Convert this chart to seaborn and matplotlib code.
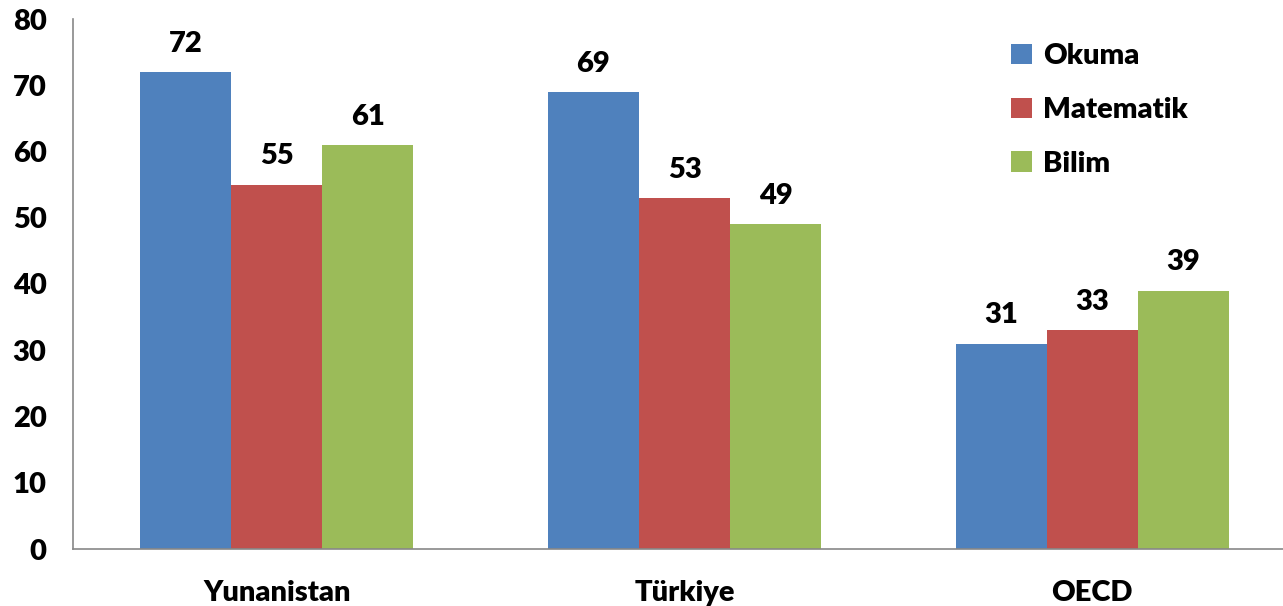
import seaborn as sns
import matplotlib.pyplot as plt
import pandas as pd

countries = ['Yunanistan', 'Türkiye', 'OECD']
subjects = ['Okuma', 'Matematik', 'Bilim']
okuma = [72, 69, 31]
matematik = [55, 53, 33]
bilim = [61, 49, 39]
colors = ['#4F81BD', '#C0504D', '#9BBB59']

df = pd.DataFrame({
    'country': countries * 3,
    'subject': [s for s in subjects for _ in countries],
    'value': okuma + matematik + bilim,
})

sns.set_style('white')
plt.rcParams['font.family'] = ['Lato', 'DejaVu Sans']
plt.rcParams['text.color'] = 'black'
plt.rcParams['xtick.labelcolor'] = 'black'
plt.rcParams['ytick.labelcolor'] = 'black'
W = 'heavy'
FS = 21

fig = plt.figure(figsize=(12.83, 6.06), dpi=100)
ax = fig.add_axes([73 / 1283, 1 - 549 / 606, 1 - 73 / 1283, 530 / 606])

sns.barplot(data=df, x='country', y='value', hue='subject', palette=colors,
            width=0.67, saturation=1, ax=ax, edgecolor='none', linewidth=0)

for c in ax.containers:
    ax.bar_label(c, fontsize=FS, fontweight=W, padding=11, color='black')

ax.set_ylim(0, 80)
ax.set_xlim(-0.5, 2.468)
ax.set_yticks(range(0, 81, 10))
ax.set_xlabel('')
ax.set_ylabel('')

# category boundary ticks like the spreadsheet chart
ax.set_xticks([-0.5, 0.5, 1.5], minor=True)
ax.tick_params(axis='x', which='major', length=0, pad=22, labelsize=FS, labelcolor='black')
ax.tick_params(axis='x', which='minor', length=9, width=1.2, color='#888888', direction='out')
ax.tick_params(axis='y', length=10, width=1.2, color='#888888', direction='out', pad=9,
               labelsize=FS, labelcolor='black')
for lab in ax.get_xticklabels() + ax.get_yticklabels():
    lab.set_fontweight(W)

sns.despine(ax=ax)
for s in ['left', 'bottom']:
    ax.spines[s].set_color('#888888')
    ax.spines[s].set_linewidth(1.2)

leg = ax.legend(loc='upper left', bbox_to_anchor=(985 / 1283, 1 - 17 / 606),
                bbox_transform=fig.transFigure, frameon=False,
                handlelength=0.7, handleheight=0.7, handletextpad=0.4,
                labelspacing=0.95, prop={'size': FS, 'weight': W})
for t in leg.get_texts():
    t.set_color('black')

fig.savefig('out.png', dpi=100)
